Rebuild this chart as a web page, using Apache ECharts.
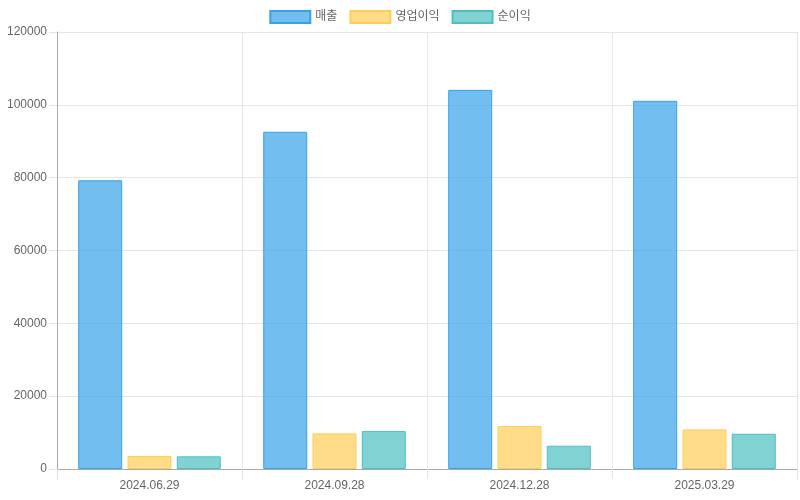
<!DOCTYPE html>
<html>
<head>
<meta charset="utf-8">
<title>매출 / 영업이익 / 순이익</title>
<script src="https://cdn.jsdelivr.net/npm/echarts@6/dist/echarts.min.js"></script>
<style>
    html, body { margin: 0; padding: 0; background: #fff; }
    #main { width: 800px; height: 500px; }
</style>
</head>
<body>
<div id="main"></div>
<script>
    // 분기 (결산일)
    var dates = ['2024.06.29', '2024.09.28', '2024.12.28', '2025.03.29'];
    var sales = [79270, 92600, 104110, 101100];        // 매출
    var operatingProfit = [3560, 9770, 11780, 10870];  // 영업이익
    var netProfit = [3470, 10410, 6390, 9680];         // 순이익
    var seriesNames = ['매출', '영업이익', '순이익'];

    var font = 'Liberation Sans, Arial, Noto Sans CJK KR, sans-serif';

    function barSeries(name, data, fill, line) {
        return {
            name: name,
            type: 'bar',
            data: data,
            barWidth: 44,
            barGap: '12%',
            itemStyle: {
                color: fill,
                borderColor: line,
                borderWidth: 1
            },
            emphasis: { disabled: true }
        };
    }

    var myChart = echarts.init(document.getElementById('main'));
    var option = {
        animation: false,
        textStyle: { fontFamily: font },
        legend: {
            data: seriesNames,
            icon: 'rect',
            top: 5,
            left: 'center',
            itemWidth: 40,
            itemHeight: 12,
            itemGap: 12,
            textStyle: { color: '#666', fontSize: 12, fontFamily: font }
        },
        grid: {
            left: 57,
            right: 3,
            top: 32,
            bottom: 31
        },
        xAxis: {
            type: 'category',
            data: dates,
            axisLine: { lineStyle: { color: '#aaa' } },
            axisTick: { show: true, length: 10, lineStyle: { color: '#e3e3e3' } },
            axisLabel: { color: '#666', fontSize: 12, margin: 11, fontFamily: font },
            splitLine: { show: true, lineStyle: { color: '#e6e6e6' } }
        },
        yAxis: {
            type: 'value',
            min: 0,
            max: 120000,
            interval: 20000,
            axisLine: { show: true, lineStyle: { color: '#aaa' } },
            axisTick: { show: true, length: 8, lineStyle: { color: '#e3e3e3' } },
            axisLabel: {
                color: '#666', fontSize: 12, margin: 10, fontFamily: font,
                formatter: function (v) { return String(v); }
            },
            splitLine: { show: true, lineStyle: { color: '#e6e6e6' } }
        },
        series: [
            barSeries(seriesNames[0], sales, 'rgba(54,162,235,0.7)', 'rgb(54,162,235)'),
            barSeries(seriesNames[1], operatingProfit, 'rgba(255,205,86,0.7)', 'rgb(255,205,86)'),
            barSeries(seriesNames[2], netProfit, 'rgba(75,192,192,0.7)', 'rgb(75,192,192)')
        ]
    };
    myChart.setOption(option);
</script>
</body>
</html>
